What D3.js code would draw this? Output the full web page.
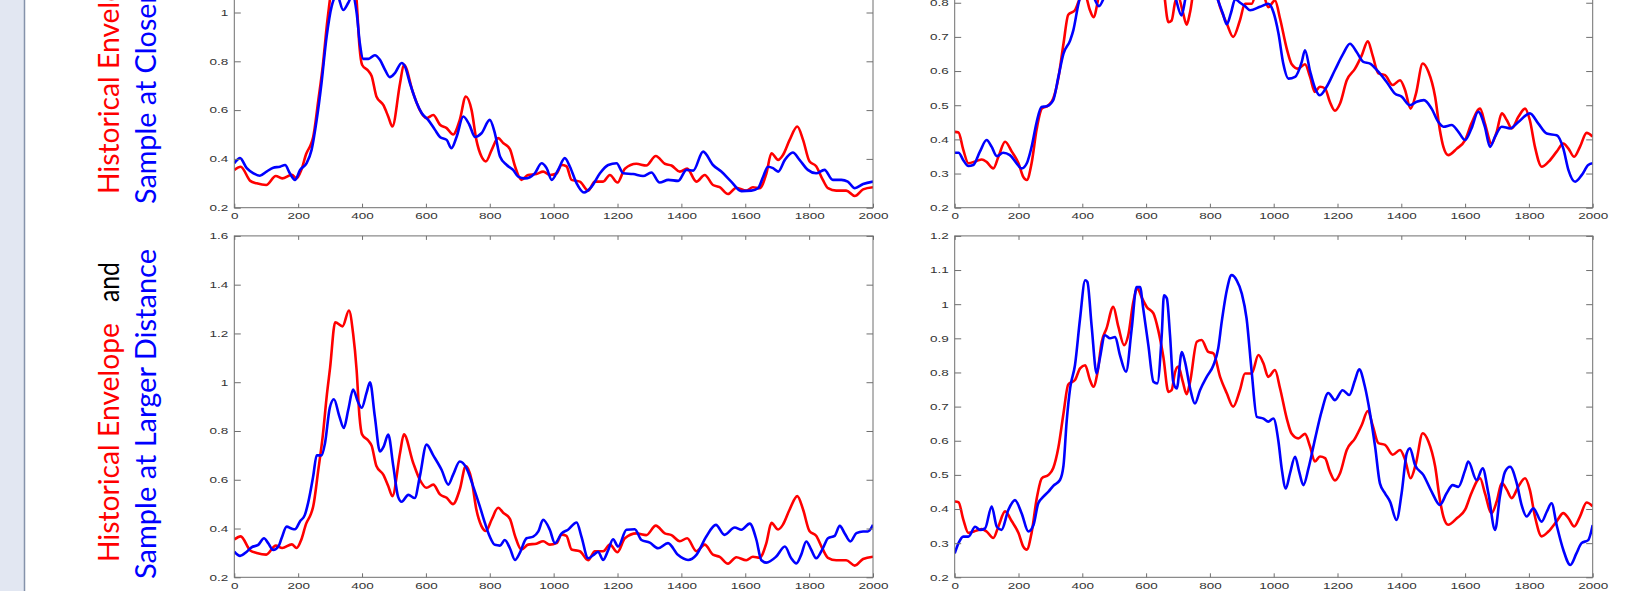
<!DOCTYPE html>
<html>
<head>
<meta charset="utf-8">
<script src="https://cdn.jsdelivr.net/npm/d3@7"></script>
<style>
body { margin: 0; background: #fff; }
svg { display: block; }
</style>
</head>
<body>
<svg id="chart" width="1643" height="591"></svg>
<script>
// x axis is a sample index 0..2000
var xTicks = [0, 200, 400, 600, 800, 1000, 1200, 1400, 1600, 1800, 2000];
var yTicksLeft = [0.2, 0.4, 0.6, 0.8, 1, 1.2, 1.4, 1.6];
var yTicksRight = [0.2, 0.3, 0.4, 0.5, 0.6, 0.7, 0.8, 0.9, 1, 1.1, 1.2];

// historical envelope (red), same curve in both rows of a column
var historyLeft = [[0,0.355],[20,0.368],[50,0.31],[70,0.30],[100,0.293],[130,0.33],[150,0.32],[180,0.335],[195,0.32],[210,0.355],[225,0.42],[240,0.46],[247,0.49],[263,0.64],[277,0.78],[290,0.95],[300,1.06],[316,1.246],[339,1.229],[359,1.294],[372,1.2],[383,1.05],[392,0.86],[400,0.786],[420,0.76],[430,0.74],[445,0.656],[467,0.62],[482,0.574],[495,0.533],[519,0.71],[531,0.786],[560,0.67],[581,0.60],[602,0.567],[623,0.58],[644,0.54],[665,0.526],[685,0.50],[706,0.56],[725,0.656],[743,0.6],[758,0.478],[774,0.41],[788,0.39],[806,0.437],[826,0.485],[842,0.465],[863,0.44],[879,0.37],[899,0.314],[920,0.334],[946,0.338],[967,0.348],[988,0.334],[1009,0.34],[1025,0.375],[1040,0.37],[1056,0.314],[1082,0.307],[1108,0.27],[1129,0.307],[1155,0.307],[1176,0.334],[1200,0.303],[1223,0.36],[1259,0.38],[1290,0.373],[1320,0.412],[1348,0.38],[1369,0.373],[1395,0.348],[1418,0.36],[1447,0.307],[1473,0.334],[1499,0.293],[1520,0.284],[1546,0.256],[1572,0.282],[1603,0.27],[1624,0.284],[1645,0.28],[1666,0.34],[1682,0.423],[1703,0.396],[1718,0.416],[1739,0.478],[1763,0.533],[1781,0.478],[1801,0.39],[1822,0.37],[1843,0.314],[1859,0.28],[1885,0.27],[1916,0.27],[1943,0.248],[1969,0.275],[2000,0.284]];

var historyRight = [[0,0.422],[12,0.42],[27,0.369],[43,0.33],[69,0.337],[85,0.341],[100,0.334],[121,0.315],[137,0.349],[158,0.393],[179,0.364],[200,0.33],[215,0.29],[226,0.281],[241,0.33],[257,0.43],[273,0.49],[294,0.5],[309,0.52],[325,0.58],[341,0.68],[356,0.765],[377,0.778],[393,0.812],[409,0.821],[424,0.778],[435,0.758],[447,0.797],[461,0.89],[476,0.929],[497,0.992],[513,0.934],[531,0.88],[544,0.909],[560,1.007],[573,1.046],[586,1.02],[602,0.992],[623,0.973],[638,0.924],[654,0.846],[670,0.743],[680,0.748],[691,0.802],[701,0.817],[715,0.773],[727,0.736],[738,0.773],[759,0.89],[774,0.895],[795,0.86],[811,0.856],[832,0.787],[853,0.739],[873,0.7],[894,0.748],[910,0.797],[931,0.797],[952,0.851],[968,0.826],[983,0.787],[1004,0.807],[1020,0.753],[1041,0.665],[1056,0.621],[1077,0.607],[1098,0.62],[1114,0.583],[1129,0.539],[1145,0.554],[1161,0.549],[1176,0.51],[1192,0.484],[1208,0.505],[1229,0.573],[1255,0.607],[1276,0.646],[1295,0.687],[1310,0.646],[1328,0.593],[1349,0.588],[1373,0.559],[1396,0.573],[1412,0.544],[1429,0.49],[1446,0.534],[1467,0.622],[1485,0.598],[1506,0.525],[1521,0.427],[1532,0.378],[1547,0.354],[1574,0.373],[1600,0.398],[1620,0.447],[1647,0.49],[1662,0.447],[1683,0.388],[1699,0.422],[1715,0.476],[1731,0.456],[1746,0.432],[1767,0.466],[1788,0.49],[1803,0.456],[1819,0.378],[1840,0.32],[1861,0.334],[1887,0.364],[1908,0.388],[1924,0.373],[1942,0.349],[1960,0.378],[1981,0.419],[2000,0.408]];

// sample at closer distance (blue, top row)
var closeLeft = [[0,0.382],[18,0.403],[39,0.362],[60,0.341],[80,0.331],[101,0.348],[122,0.364],[143,0.368],[159,0.375],[174,0.341],[190,0.314],[206,0.355],[226,0.382],[242,0.437],[258,0.56],[273,0.71],[289,0.90],[305,1.026],[322,1.07],[341,1.01],[357,1.04],[370,1.07],[383,1.0],[393,0.875],[404,0.81],[420,0.81],[440,0.825],[456,0.806],[472,0.765],[487,0.735],[503,0.752],[524,0.793],[534,0.78],[550,0.71],[571,0.63],[587,0.587],[607,0.56],[628,0.52],[644,0.49],[665,0.478],[680,0.444],[696,0.49],[717,0.574],[736,0.54],[754,0.49],[774,0.505],[800,0.56],[816,0.505],[832,0.41],[853,0.375],[873,0.355],[889,0.327],[910,0.32],[941,0.341],[962,0.382],[978,0.362],[994,0.314],[1014,0.355],[1035,0.403],[1051,0.368],[1072,0.30],[1095,0.262],[1119,0.286],[1145,0.341],[1171,0.375],[1197,0.382],[1218,0.341],[1249,0.338],[1280,0.33],[1306,0.344],[1332,0.303],[1359,0.314],[1390,0.31],[1416,0.355],[1437,0.352],[1468,0.43],[1499,0.375],[1525,0.348],[1556,0.307],[1588,0.268],[1619,0.27],[1640,0.28],[1656,0.327],[1671,0.368],[1687,0.362],[1703,0.348],[1724,0.396],[1749,0.426],[1770,0.396],[1796,0.355],[1822,0.341],[1848,0.355],[1874,0.314],[1901,0.314],[1921,0.307],[1943,0.28],[1969,0.297],[2000,0.307]];

var closeRight = [[0,0.361],[12,0.361],[27,0.339],[43,0.322],[58,0.325],[79,0.364],[100,0.398],[116,0.378],[132,0.351],[152,0.361],[173,0.354],[194,0.33],[210,0.315],[226,0.33],[241,0.378],[257,0.451],[272,0.495],[288,0.497],[309,0.515],[325,0.583],[341,0.651],[362,0.69],[372,0.72],[388,0.797],[405,0.85],[425,0.84],[452,0.79],[475,0.83],[500,0.87],[540,0.88],[580,0.9],[620,0.88],[660,0.86],[690,0.82],[711,0.763],[725,0.82],[750,0.87],[790,0.88],[820,0.82],[840,0.77],[853,0.737],[866,0.77],[879,0.81],[895,0.80],[910,0.79],[926,0.778],[957,0.788],[983,0.797],[999,0.773],[1015,0.71],[1030,0.622],[1046,0.578],[1067,0.583],[1088,0.627],[1098,0.661],[1114,0.6],[1130,0.549],[1145,0.529],[1166,0.554],[1192,0.603],[1218,0.651],[1239,0.68],[1260,0.656],[1281,0.627],[1302,0.622],[1328,0.598],[1354,0.568],[1380,0.534],[1401,0.525],[1427,0.5],[1448,0.51],[1471,0.515],[1495,0.49],[1516,0.451],[1532,0.437],[1558,0.442],[1579,0.422],[1600,0.398],[1620,0.432],[1641,0.481],[1662,0.437],[1678,0.378],[1694,0.408],[1715,0.437],[1741,0.432],[1767,0.451],[1803,0.476],[1829,0.447],[1856,0.417],[1887,0.412],[1908,0.373],[1924,0.31],[1945,0.276],[1966,0.296],[1986,0.325],[2000,0.33]];

// sample at larger distance (blue, bottom row)
var farLeft = [[0,0.305],[18,0.288],[39,0.305],[54,0.323],[75,0.333],[93,0.36],[106,0.34],[122,0.312],[138,0.326],[148,0.36],[164,0.408],[179,0.40],[190,0.397],[206,0.43],[221,0.456],[231,0.504],[247,0.614],[258,0.70],[273,0.70],[284,0.75],[299,0.895],[312,0.93],[329,0.86],[343,0.812],[357,0.888],[372,0.97],[387,0.92],[399,0.895],[414,0.956],[425,1.0],[440,0.86],[456,0.716],[468,0.737],[482,0.785],[498,0.655],[513,0.53],[524,0.51],[545,0.538],[565,0.525],[581,0.614],[602,0.744],[623,0.70],[649,0.641],[670,0.58],[685,0.62],[706,0.675],[727,0.648],[748,0.573],[769,0.49],[785,0.422],[800,0.367],[816,0.333],[832,0.33],[847,0.353],[863,0.319],[879,0.271],[894,0.30],[915,0.36],[936,0.367],[952,0.388],[967,0.436],[988,0.395],[1004,0.34],[1025,0.38],[1045,0.395],[1072,0.425],[1087,0.367],[1108,0.278],[1129,0.296],[1139,0.305],[1155,0.271],[1171,0.312],[1186,0.356],[1202,0.326],[1228,0.395],[1254,0.397],[1275,0.353],[1301,0.342],[1327,0.319],[1358,0.34],[1389,0.292],[1421,0.271],[1447,0.292],[1478,0.367],[1508,0.415],[1535,0.374],[1567,0.404],[1588,0.395],[1614,0.42],[1635,0.353],[1650,0.271],[1666,0.26],[1697,0.285],[1724,0.326],[1744,0.278],[1760,0.257],[1775,0.292],[1791,0.347],[1807,0.312],[1822,0.278],[1843,0.319],[1859,0.36],[1880,0.37],[1896,0.411],[1911,0.381],[1929,0.347],[1948,0.381],[1969,0.388],[1984,0.388],[2000,0.415]];

var farRight = [[0,0.27],[12,0.3],[27,0.319],[43,0.319],[64,0.348],[79,0.339],[95,0.343],[116,0.407],[132,0.348],[147,0.339],[168,0.397],[189,0.426],[210,0.387],[231,0.334],[247,0.353],[262,0.417],[278,0.436],[294,0.451],[309,0.468],[330,0.485],[341,0.527],[351,0.657],[362,0.755],[377,0.821],[393,0.958],[409,1.07],[416,1.065],[429,0.939],[445,0.797],[455,0.841],[471,0.909],[487,0.9],[503,0.904],[518,0.851],[537,0.802],[555,0.929],[570,1.05],[581,1.05],[591,0.987],[607,0.88],[623,0.773],[635,0.768],[649,0.909],[656,1.026],[665,1.017],[675,0.909],[685,0.773],[696,0.753],[712,0.86],[722,0.831],[738,0.753],[753,0.709],[769,0.748],[790,0.787],[811,0.821],[826,0.87],[837,0.948],[853,1.041],[868,1.085],[884,1.07],[900,1.031],[915,0.958],[931,0.802],[947,0.67],[968,0.665],[983,0.656],[999,0.665],[1015,0.597],[1025,0.519],[1038,0.46],[1051,0.504],[1067,0.553],[1080,0.509],[1093,0.47],[1109,0.519],[1130,0.607],[1150,0.685],[1171,0.74],[1192,0.719],[1216,0.748],[1237,0.734],[1255,0.778],[1268,0.809],[1286,0.758],[1302,0.68],[1318,0.582],[1333,0.475],[1349,0.446],[1365,0.421],[1385,0.368],[1401,0.446],[1417,0.563],[1427,0.578],[1443,0.529],[1469,0.5],[1495,0.451],[1521,0.412],[1542,0.446],[1561,0.47],[1579,0.465],[1600,0.514],[1610,0.539],[1636,0.485],[1655,0.519],[1673,0.446],[1694,0.339],[1709,0.436],[1725,0.509],[1741,0.524],[1762,0.475],[1777,0.412],[1793,0.378],[1814,0.402],[1840,0.363],[1856,0.392],[1871,0.417],[1887,0.353],[1908,0.28],[1930,0.236],[1949,0.27],[1965,0.3],[1986,0.309],[2000,0.353]];

var RED = "#ff0000", BLUE = "#0000ff";

var svg = d3.select("#chart");

// slide side bar on the left
svg.append("rect").attr("x", 0).attr("y", 0).attr("width", 24).attr("height", 591).attr("fill", "#e2e7f2");
svg.append("line").attr("x1", 24.5).attr("x2", 24.5).attr("y1", 0).attr("y2", 591)
    .attr("stroke", "#8592aa").attr("stroke-width", 1.5);

// panel boxes (the top row is cropped by the slide)
var left = {x0: 234.3, x1: 873}, right = {x0: 954.7, x1: 1592.7};
var topRow = {y0: -133.9, y1: 207.7}, bottomRow = {y0: 235.9, y1: 577.3};

drawPanel("p1", left, topRow, [0.2, 1.6], yTicksLeft, historyLeft, closeLeft);
drawPanel("p2", right, topRow, [0.2, 1.2], yTicksRight, historyRight, closeRight);
drawPanel("p3", left, bottomRow, [0.2, 1.6], yTicksLeft, historyLeft, farLeft);
drawPanel("p4", right, bottomRow, [0.2, 1.2], yTicksRight, historyRight, farRight);

function fmt(d) { return String(+d.toFixed(1)); }

function styleAxis(g, hideText) {
    g.attr("font-family", "'Liberation Sans', Arial, sans-serif").attr("font-size", 9).attr("color", "#6f6f6f");
    g.select(".domain").remove();
    g.selectAll(".tick text").attr("fill", "#333").attr("transform", "scale(1.5,1)");
    if (hideText) g.selectAll(".tick text").remove();
}

function drawPanel(id, col, row, yDomain, yTicks, red, blue) {
    var x = d3.scaleLinear().domain([0, 2000]).range([col.x0, col.x1]);
    var y = d3.scaleLinear().domain(yDomain).range([row.y1, row.y0]);

    svg.append("clipPath").attr("id", "clip-" + id)
        .append("rect").attr("x", col.x0).attr("y", row.y0)
        .attr("width", col.x1 - col.x0).attr("height", row.y1 - row.y0);

    var line = d3.line()
        .x(d => x(d[0]))
        .y(d => y(d[1]))
        .curve(d3.curveMonotoneX);

    var plot = svg.append("g").attr("clip-path", "url(#clip-" + id + ")");
    plot.append("path").datum(red)
        .attr("d", line).attr("fill", "none").attr("stroke", RED)
        .attr("stroke-width", 2.6).attr("stroke-linejoin", "round");
    plot.append("path").datum(blue)
        .attr("d", line).attr("fill", "none").attr("stroke", BLUE)
        .attr("stroke-width", 2.6).attr("stroke-linejoin", "round");

    // box with inward ticks on all four sides
    svg.append("g").attr("transform", "translate(0," + row.y1 + ")")
        .call(d3.axisBottom(x).tickValues(xTicks).tickFormat(d3.format("d"))
            .tickSizeInner(-4).tickSizeOuter(0).tickPadding(5))
        .call(g => styleAxis(g, false));
    svg.append("g").attr("transform", "translate(0," + row.y0 + ")")
        .call(d3.axisTop(x).tickValues(xTicks).tickSizeInner(-4).tickSizeOuter(0))
        .call(g => styleAxis(g, true));
    // labels only where the slide still shows them
    var shown = yTicks.filter(d => y(d) > -4);
    svg.append("g").attr("transform", "translate(" + col.x0 + ",0)")
        .call(d3.axisLeft(y).tickValues(shown).tickFormat(fmt)
            .tickSizeInner(-6.5).tickSizeOuter(0).tickPadding(4))
        .call(g => styleAxis(g, false));
    svg.append("g").attr("transform", "translate(" + col.x1 + ",0)")
        .call(d3.axisRight(y).tickValues(shown).tickSizeInner(-6.5).tickSizeOuter(0))
        .call(g => styleAxis(g, true));

    svg.append("rect").attr("x", col.x0).attr("y", row.y0)
        .attr("width", col.x1 - col.x0).attr("height", row.y1 - row.y0)
        .attr("fill", "none").attr("stroke", "#6f6f6f").attr("stroke-width", 1);
}

// rotated captions on the left
function caption(parts, baseX, startY) {
    parts.forEach(p => {
        svg.append("text")
            .attr("transform", "translate(" + baseX + "," + (startY - p.offset) + ") rotate(-90)")
            .attr("font-family", "Lato, 'Open Sans', sans-serif")
            .attr("font-size", 29)
            .attr("fill", p.color)
            .attr("textLength", p.len)
            .attr("lengthAdjust", "spacingAndGlyphs")
            .text(p.text);
    });
}

caption([{text: "Historical Envelope", color: RED, offset: 0, len: 239},
         {text: "and", color: "#000", offset: 260, len: 40}], 119, 194);
caption([{text: "Sample at Closer Distance", color: BLUE, offset: 0, len: 328}], 156, 204);
caption([{text: "Historical Envelope", color: RED, offset: 0, len: 239},
         {text: "and", color: "#000", offset: 260, len: 40}], 119, 562);
caption([{text: "Sample at Larger Distance", color: BLUE, offset: 0, len: 330}], 156, 579);
</script>
</body>
</html>
